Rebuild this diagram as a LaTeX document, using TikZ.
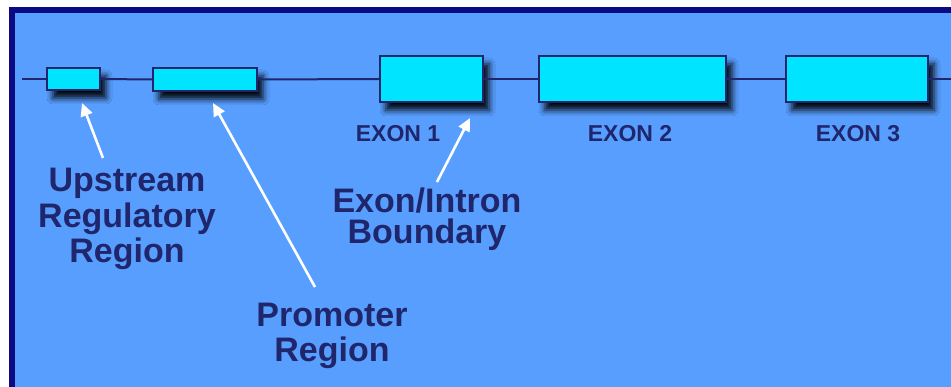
\documentclass[tikz,border=0pt]{standalone}
\usepackage{fontspec}
\setmainfont{Liberation Sans}
\usetikzlibrary{arrows.meta,shadows.blur}

\definecolor{sky}{RGB}{88,158,255}
\definecolor{frame}{RGB}{10,10,130}
\definecolor{gene}{RGB}{0,228,255}
\definecolor{ink}{RGB}{32,38,108}

\tikzset{
  region/.style={draw=ink, line width=1.8pt, fill=gene, inner sep=0pt,
    blur shadow={shadow xshift=6pt, shadow yshift=-8pt, shadow blur radius=6pt, shadow opacity=95}},
  strand/.style={draw=ink, line width=2pt},
  exonlabel/.style={text=ink, font=\fontsize{23}{25}\selectfont\bfseries, inner sep=0pt, anchor=base},
  biglabel/.style={text=ink, align=center, inner sep=0pt, anchor=base},
  pointer/.style={draw=white, line width=2.6pt, -{Triangle[length=13pt,width=12pt]}}
}

\begin{document}
\begin{tikzpicture}[x=1pt, y=-1pt]
  % page and framed panel
  \fill[white] (0,0) rectangle (951,387);
  \useasboundingbox (0,0) rectangle (951,387);
  \fill[frame] (9,7) rectangle (951,387);
  \fill[sky] (15,13) rectangle (951,387);

  % gene regions
  \node[region, minimum width=53pt, minimum height=22pt] (ur) at (73.5,79) {};
  \node[region, minimum width=104pt, minimum height=23pt] (prom) at (205,79.5) {};
  \node[region, minimum width=103pt, minimum height=46pt] (ex1) at (431.5,79) {};
  \node[region, minimum width=187pt, minimum height=46pt] (ex2) at (632.5,79) {};
  \node[region, minimum width=142pt, minimum height=46pt] (ex3) at (857,79) {};

  % DNA strand between the regions
  \coordinate (s0) at (22,79);
  \coordinate (s1) at (951,79);
  \draw[strand] (s0) -- (ur.west);
  \draw[strand] (ur.east) -- (prom.west);
  \draw[strand] (prom.east) -- (ex1.west);
  \draw[strand] (ex1.east) -- (ex2.west);
  \draw[strand] (ex2.east) -- (ex3.west);
  \draw[strand] (ex3.east) -- (s1);

  % exon names
  \node[exonlabel] (l1) at (398,142) {EXON 1};
  \node[exonlabel] (l2) at (630,142) {EXON 2};
  \node[exonlabel] (l3) at (858,142) {EXON 3};

  % descriptive labels (base anchor sits on the last line)
  \node[biglabel, font=\fontsize{34}{35.5}\selectfont\bfseries] (upr) at (127,263)
    {Upstream\\Regulatory\\Region};
  \node[biglabel, font=\fontsize{34}{35}\selectfont\bfseries] (pr) at (332,362)
    {Promoter\\Region};
  \node[biglabel, font=\fontsize{34}{31}\selectfont\bfseries] (eib) at (427,244)
    {Exon/Intron\\Boundary};

  % pointers from labels to regions
  \coordinate (t1) at (103,158);
  \coordinate (h1) at (82,103);
  \coordinate (t2) at (315,287);
  \coordinate (h2) at (213,103);
  \coordinate (t3) at (437,182);
  \coordinate (h3) at (470,118);
  \draw[pointer] (t1) -- (h1);
  \draw[pointer] (t2) -- (h2);
  \draw[pointer] (t3) -- (h3);
\end{tikzpicture}
\end{document}
